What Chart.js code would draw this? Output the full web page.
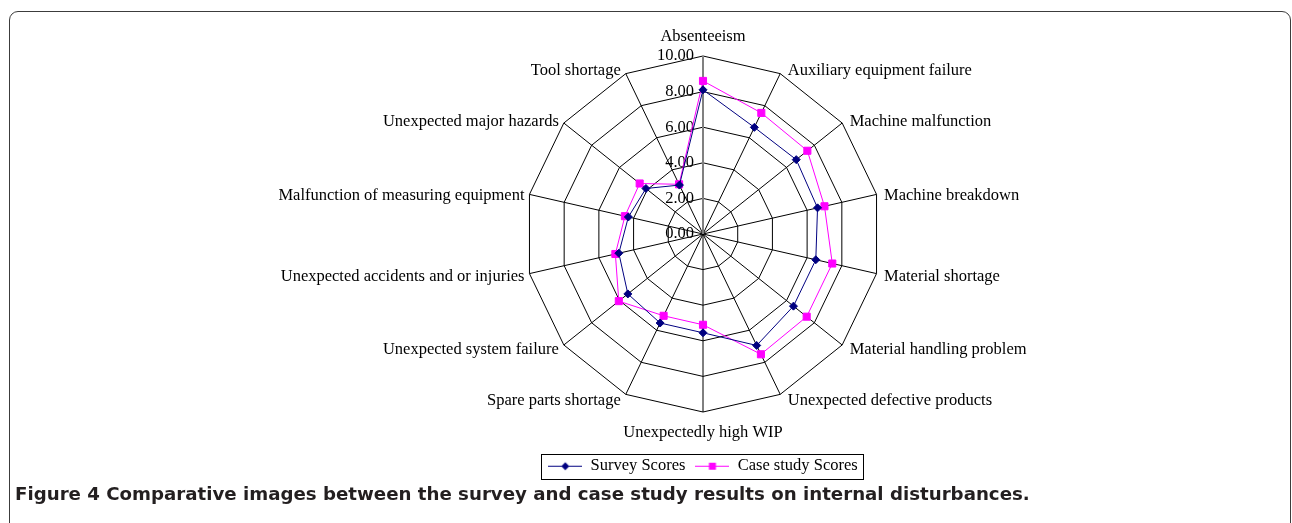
<!DOCTYPE html>
<html>
<head>
<meta charset="utf-8">
<script src="https://cdn.jsdelivr.net/npm/chart.js@4.4.1/dist/chart.umd.min.js"></script>
<style>
  html, body { margin: 0; padding: 0; background: #fff; }
  #wrap { position: relative; width: 1292px; height: 523px; overflow: hidden; }
  #frame {
    position: absolute; left: 9px; top: 11px; width: 1282px; height: 600px;
    box-sizing: border-box; border: 1.5px solid #3c3c3c; border-radius: 9px;
  }
  #chart { position: absolute; left: 0; top: 0; }
  #caption {
    position: absolute; left: 15px; top: 483px; line-height: 22px;
    font-family: "DejaVu Sans", "Open Sans", sans-serif; font-weight: bold;
    font-size: 18.2px; color: #231f20; white-space: nowrap;
  }
</style>
</head>
<body>
<div id="wrap">
  <div id="frame"></div>
  <canvas id="chart" width="1292" height="523"></canvas>
  <div id="caption">Figure 4 Comparative images between the survey and case study results on internal disturbances.</div>
</div>
<script>
const categories = [
  'Absenteeism', 'Auxiliary equipment failure', 'Machine malfunction', 'Machine breakdown',
  'Material shortage', 'Material handling problem', 'Unexpected defective products',
  'Unexpectedly high WIP', 'Spare parts shortage', 'Unexpected system failure',
  'Unexpected accidents and or injuries', 'Malfunction of measuring equipment',
  'Unexpected major hazards', 'Tool shortage'
];
const surveyScores = [8.1, 6.65, 6.7, 6.6, 6.5, 6.5, 6.95, 5.55, 5.55, 5.4, 4.85, 4.3, 4.1, 3.05];
const caseStudyScores = [8.6, 7.55, 7.5, 7.0, 7.45, 7.45, 7.5, 5.1, 5.1, 6.05, 5.05, 4.5, 4.55, 3.1];
const tickValues = [0, 2, 4, 6, 8, 10];

const SERIF = '"Liberation Serif", "Times New Roman", serif';
const NAVY = '#000080';
const MAGENTA = '#ff00ff';

// small line+marker pictures for the legend
function legendSymbol(color, shape) {
  const c = document.createElement('canvas');
  c.width = 34; c.height = 12;
  const g = c.getContext('2d');
  g.strokeStyle = color;
  g.lineWidth = 1;
  g.beginPath();
  g.moveTo(0, 6.5);
  g.lineTo(34, 6.5);
  g.stroke();
  g.fillStyle = color;
  if (shape === 'diamond') {
    g.beginPath();
    g.moveTo(17, 2.5); g.lineTo(21, 6.5); g.lineTo(17, 10.5); g.lineTo(13, 6.5);
    g.closePath();
    g.fill();
  } else {
    g.fillRect(13.5, 3, 7, 7);
  }
  return c;
}

const labelPlugin = {
  id: 'excelLabels',
  beforeDatasetsDraw(chart) {
    const scale = chart.scales.r;
    const ctx = chart.ctx;
    ctx.save();
    // grey value axis
    const top = scale.getPointPosition(0, scale.drawingArea);
    ctx.strokeStyle = '#808080';
    ctx.lineWidth = 2;
    ctx.beginPath();
    ctx.moveTo(scale.xCenter, scale.yCenter);
    ctx.lineTo(top.x, top.y);
    ctx.stroke();

    ctx.fillStyle = '#000';
    ctx.font = '16.5px ' + SERIF;
    ctx.textBaseline = 'middle';
    ctx.textAlign = 'right';
    tickValues.forEach(v => {
      const y = scale.yCenter - scale.getDistanceFromCenterForValue(v);
      ctx.fillText(v.toFixed(2), scale.xCenter - 9, y);
    });

    categories.forEach((text, i) => {
      const p = scale.getPointPosition(i, scale.drawingArea);
      const a = scale.getIndexAngle(i);
      const s = Math.sin(a), c = Math.cos(a);
      if (Math.abs(s) < 0.01) {
        ctx.textAlign = 'center';
        ctx.fillText(text, p.x, c > 0 ? p.y - 19 : p.y + 21);
      } else if (s > 0) {
        ctx.textAlign = 'left';
        ctx.fillText(text, p.x + 7.5, p.y + 2 - 5 * c);
      } else {
        ctx.textAlign = 'right';
        ctx.fillText(text, p.x - 5, p.y + 2 - 5 * c);
      }
    });
    ctx.restore();
  },
  afterDraw(chart) {
    const boxes = chart.legend.legendHitBoxes;
    if (!boxes || !boxes.length) return;
    const left = Math.min(...boxes.map(b => b.left)) - 7;
    const right = Math.max(...boxes.map(b => b.left + b.width)) + 6;
    const top = Math.min(...boxes.map(b => b.top)) - 4;
    const bottom = Math.max(...boxes.map(b => b.top + b.height)) + 4;
    const ctx = chart.ctx;
    ctx.save();
    ctx.strokeStyle = '#000';
    ctx.lineWidth = 1;
    ctx.strokeRect(Math.round(left) + 0.5, Math.round(top) + 0.5, Math.round(right - left), Math.round(bottom - top));
    ctx.restore();
  }
};

const symbols = [legendSymbol(NAVY, 'diamond'), legendSymbol(MAGENTA, 'square')];

new Chart(document.getElementById('chart'), {
  type: 'radar',
  data: {
    labels: categories,
    datasets: [
      {
        label: 'Survey Scores',
        data: surveyScores,
        borderColor: NAVY,
        backgroundColor: NAVY,
        borderWidth: 1,
        fill: false,
        pointStyle: 'rectRot',
        pointRadius: 4,
        pointBorderWidth: 1,
        pointBackgroundColor: NAVY,
        pointBorderColor: NAVY
      },
      {
        label: 'Case study Scores',
        data: caseStudyScores,
        borderColor: MAGENTA,
        backgroundColor: MAGENTA,
        borderWidth: 1,
        fill: false,
        pointStyle: 'rect',
        pointRadius: 5,
        pointBorderWidth: 1,
        pointBackgroundColor: MAGENTA,
        pointBorderColor: MAGENTA
      }
    ]
  },
  options: {
    responsive: false,
    animation: false,
    layout: { padding: { left: 114, right: 0, top: 56, bottom: 39 } },
    scales: {
      r: {
        min: 0,
        max: 10,
        ticks: { stepSize: 2, display: false },
        grid: { color: '#000', lineWidth: 1, circular: false },
        angleLines: { color: '#000', lineWidth: 1 },
        pointLabels: { display: false }
      }
    },
    plugins: {
      tooltip: { enabled: false },
      legend: {
        position: 'bottom',
        title: { display: true, text: '', font: { size: 1, lineHeight: 1 }, padding: { top: 34, bottom: 0 } },
        labels: {
          usePointStyle: true,
          pointStyleWidth: 34,
          padding: 10,
          color: '#000',
          font: { family: SERIF, size: 16.5 },
          generateLabels: chart => chart.data.datasets.map((ds, i) => ({
            text: ds.label,
            pointStyle: symbols[i],
            fillStyle: ds.borderColor,
            strokeStyle: ds.borderColor,
            lineWidth: 0,
            hidden: false,
            datasetIndex: i,
            fontColor: '#000'
          }))
        }
      }
    }
  },
  plugins: [labelPlugin]
});
</script>
</body>
</html>
